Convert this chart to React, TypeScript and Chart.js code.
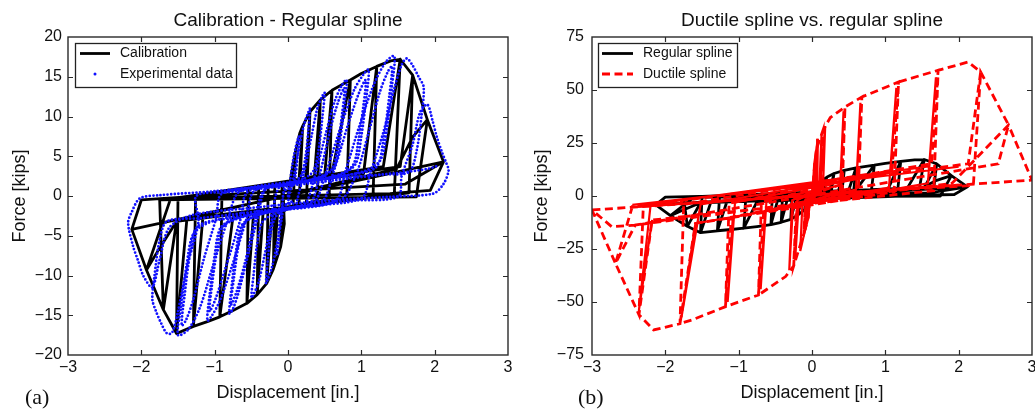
import React, { useEffect, useRef } from "react";
import { Chart, registerables } from "chart.js";
Chart.register(...registerables);

const FONT = '"Liberation Sans", Arial, Helvetica, sans-serif';
const SERIF = '"Liberation Serif", "Times New Roman", serif';

// ---- Data (displacement [in.], force [kips]) ----
const calibration: number[][] = [
  [0,0],[0.05,3],[0.1,5.5],
  [0.07,1.7],[-0.07,1.5],[-0.05,-3.5],[-0.1,-6.4],
  [-0.06,-1.9],[0.07,-1.2],[0.1,5.5],[0.16,7.9],[0.2,8.8],
  [0.15,2.0],[-0.08,1.4],[-0.1,-6.4],[-0.2,-9.2],
  [-0.14,-1.9],[0.15,-1.0],[0.2,8.8],[0.3,10.6],
  [0.24,2.2],[-0.18,1.3],[-0.2,-9.2],[-0.29,-11],
  [-0.22,-2.0],[0.25,-0.9],[0.3,10.6],[0.44,12.1],
  [0.36,2.4],[-0.27,1.2],[-0.29,-11],[-0.42,-12.4],
  [-0.34,-2.1],[0.4,-0.6],[0.44,12.1],[0.6,13.3],
  [0.5,2.6],[-0.4,1.1],[-0.42,-12.4],[-0.56,-13.5],
  [-0.47,-2.2],[0.56,-0.5],[0.6,13.3],[0.85,14.6],
  [0.6,2.9],[-0.54,0.9],[-0.56,-13.5],[-0.75,-14.4],[-0.93,-15.2],
  [-0.75,-2.6],[0.8,-0.4],[0.85,14.6],[1.0,15.4],[1.21,16.3],
  [1.03,2.8],[-0.9,0.6],[-0.93,-15.2],[-1.1,-15.8],[-1.29,-16.4],
  [-1.16,-2.6],[1.16,-0.1],[1.21,16.3],[1.4,17.0],[1.53,17.2],
  [1.3,3.7],[-1.26,0.1],[-1.29,-16.4],[-1.52,-17.3],
  [-1.38,-3.0],[1.45,0.3],[1.53,17.2],[1.7,15.2],
  [1.53,3.7],[-1.5,-0.2],[-1.52,-17.3],[-1.7,-14.3],
  [-1.52,-3.2],[1.65,0.4],[1.7,15.2],[1.9,9.6],
  [1.75,-0.1],[-1.75,-0.5],[-1.7,-14.3],[-1.93,-9.3],
  [-1.78,-7.0],[-1.52,-3.2],[1.48,3.4],[1.7,7.4],[1.9,9.6],[2.12,4.3],
  [1.94,0.7],[1.39,0.3],[-1.6,-0.3],[-1.93,-9.3],[-2.13,-4.2],
  [-2.0,-0.5],[-1.38,-0.1],[1.6,1.5],[2.12,4.3],[-2.13,-4.2],[2.12,4.3]
];

const experimental: number[][] = [
  [0,0],[0.03,2],[0.07,4.5],[0.11,6.3],[0.15,7.5],
  [0.13,5],[0.1,2.5],[0.05,1.2],[-0.05,0.6],
  [-0.08,-1.5],[-0.11,-4],[-0.13,-6],[-0.15,-7.5],
  [-0.13,-5],[-0.1,-2.5],[-0.05,-1.3],[0.05,-0.7],
  [0.0,-0.9],[0.08,2.5],[0.15,6],[0.22,9],[0.28,10.6],[0.3,11],
  [0.28,8.5],[0.24,5],[0.18,2.6],[0.08,1.7],[-0.05,0.9],
  [-0.08,-2.5],[-0.15,-6],[-0.22,-9],[-0.28,-10.6],[-0.3,-11],
  [-0.28,-8.5],[-0.24,-5],[-0.18,-2.8],[-0.08,-1.9],[0.1,-1.4],
  [0.12,-0.7],[0.22,3],[0.32,7.5],[0.4,11],[0.47,12.6],[0.5,13],
  [0.47,10],[0.42,6],[0.35,3.2],[0.2,2.1],[-0.12,1.1],
  [-0.22,-3],[-0.32,-7.5],[-0.4,-10.8],[-0.47,-12.4],[-0.5,-12.8],
  [-0.47,-10],[-0.42,-6],[-0.35,-3.3],[-0.2,-2.3],[0.1,-1.4],[0.25,-0.8],
  [0.38,3],[0.52,8],[0.64,12],[0.74,14],[0.8,14.6],
  [0.77,11.5],[0.71,7],[0.63,3.6],[0.45,2.4],[0,1.5],[-0.3,0.9],
  [-0.42,-3],[-0.56,-8],[-0.67,-12],[-0.75,-14.2],[-0.8,-14.8],
  [-0.77,-11.5],[-0.71,-7],[-0.63,-3.7],[-0.45,-2.5],[0,-1.6],[0.3,-1.0],
  [0.44,3],[0.58,8.5],[0.69,12],[0.77,13.6],
  [0.74,10.5],[0.68,6.5],[0.6,3.4],[0.4,2.3],[0,1.4],[-0.32,0.8],
  [-0.45,-3],[-0.59,-8.5],[-0.7,-12],[-0.78,-13.7],
  [-0.74,-10.5],[-0.68,-6.5],[-0.6,-3.5],[-0.4,-2.4],[0,-1.5],[0.35,-0.9],
  [0.52,3],[0.73,9],[0.9,13.3],[1.03,15.3],[1.1,15.9],
  [1.07,12.5],[1.0,7.5],[0.92,4],[0.7,2.6],[0.2,1.8],[-0.45,0.7],
  [-0.57,-3],[-0.77,-9],[-0.93,-13.2],[-1.04,-15.1],[-1.1,-15.7],
  [-1.07,-12.5],[-1.0,-7.5],[-0.92,-4],[-0.7,-2.8],[-0.2,-1.8],[0.45,-0.8],
  [0.62,3],[0.82,9],[0.97,13],[1.06,14.6],
  [1.03,11.5],[0.96,7],[0.88,3.8],[0.6,2.4],[0,1.5],[-0.55,0.5],
  [-0.65,-3],[-0.85,-9],[-0.99,-13],[-1.07,-14.5],
  [-1.04,-11.5],[-0.97,-7],[-0.89,-3.9],[-0.6,-2.6],[0,-1.5],[0.65,-0.6],
  [0.78,3],[0.98,9],[1.17,14],[1.33,16.8],[1.45,17.6],
  [1.42,14],[1.35,8.5],[1.26,4.5],[1.0,3],[0.3,2],[-0.65,0.6],
  [-0.82,-3],[-1.03,-9],[-1.2,-14],[-1.36,-16.8],[-1.5,-17.5],
  [-1.46,-14],[-1.38,-8.5],[-1.28,-4.6],[-1.0,-3.1],[-0.3,-2],[0.7,-0.6],
  [0.92,2.5],[1.1,8],[1.25,13],[1.36,15.6],[1.42,16.3],
  [1.38,12.5],[1.3,7],[1.2,3.6],[0.8,2.6],[-0.2,1.3],[-0.9,0.3],
  [-0.98,-2.8],[-1.15,-8],[-1.29,-13],[-1.39,-15.6],[-1.45,-16.3],
  [-1.41,-12.5],[-1.33,-7],[-1.23,-3.8],[-0.8,-2.8],[0.2,-1.3],[1.0,-0.3],
  [1.12,2.8],[1.3,8],[1.45,13.5],[1.55,16.5],[1.62,17.3],[1.7,16.4],[1.78,15],[1.85,13.7],
  [1.82,10],[1.75,5.5],[1.65,3],[1.3,2.7],[0.3,1.6],[-0.8,0.5],[-1.25,0],
  [-1.22,-3.2],[-1.38,-9],[-1.5,-14.5],[-1.58,-17.2],[-1.65,-17.3],[-1.73,-16],[-1.8,-14.5],[-1.85,-13],
  [-1.82,-10],[-1.75,-5.5],[-1.65,-3.2],[-1.2,-2.8],[-0.3,-1.8],[0.8,-0.6],[1.5,-0.1],
  [1.55,2.5],[1.7,6.5],[1.8,10.5],[1.9,11.5],[1.97,9.5],[2.03,7.4],[2.1,5.5],[2.16,4.1],[2.19,3.2],
  [2.12,1.5],[1.98,0.3],[1.39,-0.1],[0.5,-0.6],[-0.5,-1.5],[-1.3,-2.4],
  [-1.62,-4],[-1.75,-8],[-1.85,-11.5],[-1.97,-10.1],[-2.05,-8],[-2.11,-6.4],[-2.18,-3.4],
  [-2.13,-2.0],[-2.02,-0.3],[-1.75,0.1],[-1.0,0.6],[0,1.5],[0.8,2.3],[1.5,2.9],[1.9,3.4],[2.05,3.8]
];

const ductile: number[][] = [
  [0,0],[0.03,12],[0.06,22],
  [0.05,2],[-0.03,-0.5],[-0.05,-10],[-0.11,-17.6],
  [-0.09,-2],[0.04,1],[0.06,22],[0.15,31],
  [0.12,3],[-0.08,-1],[-0.11,-17.6],[-0.25,-33],
  [-0.2,-4],[0.12,0.5],[0.15,31],[0.25,37],[0.45,42],
  [0.4,5.5],[-0.21,-1.5],[-0.25,-33],[-0.36,-38],[-0.73,-46.7],
  [-0.66,-8],[0.41,1],[0.45,42],[0.68,46.7],
  [0.63,9],[-0.69,-3],[-0.73,-46.7],[-1.18,-52.2],
  [-1.1,-10],[0.63,1.5],[0.68,46.7],[1.18,53.8],
  [1.09,12.1],[-1.13,-3.5],[-1.18,-52.2],[-1.64,-58.5],[-1.8,-60.2],
  [-1.59,-12.9],[1.12,2],[1.18,53.8],[1.72,59.3],
  [1.63,15.2],[-1.75,-4],[-1.8,-60.2],[-2.16,-63.2],[-2.36,-56],
  [-2.18,-11.3],[1.66,2.5],[1.72,59.3],[2.13,63.2],[2.3,58.5],
  [2.13,15.2],[-2.3,-4.5],[-2.36,-56],[-2.68,-31.8],
  [-2.45,-5],[2.2,5],[2.3,58.5],[2.68,33.5],
  [2.54,15.2],[-2.41,-13.7],[-2.68,-31.8],[-3.0,-6.6],
  [-2.73,-14.5],[-2.41,-13.7],[1.91,6],[2.68,33.5],[3.0,7.5],[-3.0,-6.6]
];

const ductileRepeat: (number[] | null)[] = [
  [0.02,1],[0.05,20],[0.04,2],[-0.02,0],[-0.05,-10],[-0.09,-16],[-0.07,-2],[0.1,2],[0.13,29],[0.1,4],
  [-0.2,-2],[-0.23,-30],[-0.18,-3],[0.0,-2],[0.03,15],[0.08,27],[0.07,3],[-0.05,-3],[-0.08,-14],
  [-0.16,-26],[-0.13,-3],[0.1,1],[0.18,33],[0.15,4],[-0.27,-2],[-0.31,-35],[-0.26,-5],
  [0.38,2],[0.43,40],[0.39,5],[-0.62,-2],[-0.7,-44],[-0.64,-7],
  [0.6,3],[0.66,44],[0.61,8],[-1.05,-3],[-1.15,-50],[-1.08,-10],[1.05,4],[1.15,51],[1.07,11],
  [-1.52,-4],[-1.78,-57.2],[-1.59,-12.9],[1.58,6],[1.69,56],[1.6,14],[-2.2,-4],[-2.36,-53.8],[-2.18,-11.3],
  null,
  [-2.45,-4.2],[0,5.3],[2.0,13.8],
  null,
  [-2.4,-5.2],[2.0,5.3]
];

const xTickRange = { min: -3, max: 3, step: 1 };
const leftY = { min: -20, max: 20, step: 5 };
const rightY = { min: -75, max: 75, step: 25 };

const toXY = (arr: (number[] | null)[]) =>
  arr.map((p) => (p ? { x: p[0], y: p[1] } : { x: null, y: null }));

const fmt = (v: number | string) => String(v).replace("-", "\u2212");

type LegendItem = { label: string; kind: "line" | "dash" | "dot"; color: string };
type Spec = {
  title: string;
  tag: string;
  tagX: number;
  yTitleX: number;
  yAxisWidth: number;
  padRight: number;
  yRange: { min: number; max: number; step: number };
  legendBox: number[];
  legendLine: number[];
  legendTextX: number;
  legend: LegendItem[];
};

function makeDecor(spec: Spec) {
  return {
    id: "decor",
    afterDraw(chart: any) {
      const { ctx, chartArea: a, scales } = chart;
      const xs = scales.x, ys = scales.y;
      ctx.save();
      ctx.setLineDash([]);
      ctx.strokeStyle = "#2a2a2a";
      ctx.lineWidth = 1.2;
      ctx.beginPath();
      for (const t of xs.ticks) {
        if (t.value <= xs.min || t.value >= xs.max) continue;
        const px = Math.round(xs.getPixelForValue(t.value)) + 0.5;
        ctx.moveTo(px, a.bottom); ctx.lineTo(px, a.bottom - 5);
        ctx.moveTo(px, a.top); ctx.lineTo(px, a.top + 5);
      }
      for (const t of ys.ticks) {
        if (t.value <= ys.min || t.value >= ys.max) continue;
        const py = Math.round(ys.getPixelForValue(t.value)) + 0.5;
        ctx.moveTo(a.left, py); ctx.lineTo(a.left + 5, py);
        ctx.moveTo(a.right, py); ctx.lineTo(a.right - 5, py);
      }
      ctx.stroke();
      ctx.lineWidth = 1.4;
      ctx.strokeRect(a.left, a.top, a.right - a.left, a.bottom - a.top);
      // legend
      const [bx1, by1, bx2, by2] = spec.legendBox;
      ctx.fillStyle = "#fff";
      ctx.fillRect(bx1, by1, bx2 - bx1, by2 - by1);
      ctx.strokeStyle = "#222";
      ctx.lineWidth = 1.3;
      ctx.strokeRect(bx1 + 0.5, by1 + 0.5, bx2 - bx1, by2 - by1);
      const rows = [53.5, 74];
      spec.legend.forEach((it, i) => {
        const y = rows[i];
        const [lx1, lx2] = spec.legendLine;
        ctx.strokeStyle = it.color;
        ctx.fillStyle = it.color;
        if (it.kind === "dot") {
          ctx.beginPath();
          ctx.arc((lx1 + lx2) / 2, y, 1.5, 0, Math.PI * 2);
          ctx.fill();
        } else {
          ctx.lineWidth = 2.8;
          ctx.setLineDash(it.kind === "dash" ? [8, 4.5] : []);
          ctx.beginPath();
          ctx.moveTo(lx1, y); ctx.lineTo(lx2, y);
          ctx.stroke();
          ctx.setLineDash([]);
        }
        ctx.fillStyle = "#111";
        ctx.font = `14px ${FONT}`;
        ctx.textAlign = "left";
        ctx.textBaseline = "middle";
        ctx.fillText(it.label, spec.legendTextX, y);
      });
      const cx = (a.left + a.right) / 2;
      ctx.fillStyle = "#111";
      ctx.textBaseline = "alphabetic";
      ctx.textAlign = "center";
      ctx.font = `19px ${FONT}`;
      ctx.fillText(spec.title, cx, 26);
      ctx.font = `18px ${FONT}`;
      ctx.fillText("Displacement [in.]", cx, 398);
      ctx.save();
      ctx.translate(spec.yTitleX, (a.top + a.bottom) / 2);
      ctx.rotate(-Math.PI / 2);
      ctx.fillText("Force [kips]", 0, 0);
      ctx.restore();
      ctx.textAlign = "left";
      ctx.font = `22px ${SERIF}`;
      ctx.fillText(spec.tag, spec.tagX, 404);
      ctx.restore();
    },
  };
}

function Panel({ spec, datasets, left, width }: { spec: Spec; datasets: any[]; left: number; width: number }) {
  const ref = useRef<HTMLCanvasElement>(null);
  useEffect(() => {
    if (!ref.current) return;
    const tickFont = { family: FONT, size: 16 };
    const chart = new Chart(ref.current, {
      type: "scatter",
      data: { datasets },
      options: {
        responsive: false,
        animation: false,
        events: [],
        layout: { padding: { top: 37, right: spec.padRight, left: 0, bottom: 0 } },
        plugins: { legend: { display: false }, tooltip: { enabled: false }, title: { display: false } },
        scales: {
          x: {
            type: "linear",
            min: xTickRange.min,
            max: xTickRange.max,
            ticks: {
              stepSize: xTickRange.step,
              autoSkip: false,
              maxRotation: 0,
              padding: 3,
              color: "#111",
              font: tickFont,
              callback: (v: any) => fmt(v),
            },
            grid: { display: false, drawTicks: false },
            border: { display: false },
            afterFit: (s: any) => { s.height = 61; },
          },
          y: {
            type: "linear",
            min: spec.yRange.min,
            max: spec.yRange.max,
            ticks: {
              stepSize: spec.yRange.step,
              autoSkip: false,
              padding: spec.yAxisWidth === 68 ? 6 : 8,
              color: "#111",
              font: tickFont,
              callback: (v: any) => fmt(v),
            },
            grid: { display: false, drawTicks: false },
            border: { display: false },
            afterFit: (s: any) => { s.width = spec.yAxisWidth; },
          },
        },
      } as any,
      plugins: [makeDecor(spec)],
    });
    return () => chart.destroy();
  }, []);
  return (
    <canvas
      ref={ref}
      width={width}
      height={416}
      style={{ position: "absolute", left, top: 0, width, height: 416 }}
    />
  );
}

const lineBase = { showLine: true, pointRadius: 0, pointHoverRadius: 0, fill: false };

export default function App() {
  const leftSpec: Spec = {
    title: "Calibration - Regular spline",
    tag: "(a)",
    tagX: 25,
    yTitleX: 25,
    yAxisWidth: 68,
    padRight: 10,
    yRange: leftY,
    legendBox: [75, 43, 236, 87],
    legendLine: [80, 110],
    legendTextX: 120,
    legend: [
      { label: "Calibration", kind: "line", color: "#000" },
      { label: "Experimental data", kind: "dot", color: "#1010ff" },
    ],
  };
  const rightSpec: Spec = {
    title: "Ductile spline vs. regular spline",
    tag: "(b)",
    tagX: 60,
    yTitleX: 29,
    yAxisWidth: 74,
    padRight: 16,
    yRange: rightY,
    legendBox: [80, 43, 219, 87],
    legendLine: [84, 115],
    legendTextX: 125,
    legend: [
      { label: "Regular spline", kind: "line", color: "#000" },
      { label: "Ductile spline", kind: "dash", color: "#ff0000" },
    ],
  };
  const leftData = [
    {
      ...lineBase,
      label: "Experimental data",
      data: toXY(experimental),
      borderColor: "#1010ff",
      borderWidth: 2.8,
      borderDash: [0, 3.6],
      borderCapStyle: "round",
      tension: 0.3,
      order: 0,
    },
    {
      ...lineBase,
      label: "Calibration",
      data: toXY(calibration),
      borderColor: "#000",
      borderWidth: 2.8,
      borderJoinStyle: "round",
      tension: 0,
      order: 1,
    },
  ];
  const rightData = [
    {
      ...lineBase,
      label: "Ductile spline",
      data: toXY(ductile),
      borderColor: "#ff0000",
      borderWidth: 2.8,
      borderDash: [8, 4.5],
      tension: 0,
      order: 0,
    },
    {
      ...lineBase,
      label: "Ductile spline (repeat)",
      data: toXY(ductileRepeat),
      borderColor: "#ff0000",
      borderWidth: 2.2,
      spanGaps: false,
      tension: 0,
      order: 1,
    },
    {
      ...lineBase,
      label: "Regular spline",
      data: toXY(calibration),
      borderColor: "#000",
      borderWidth: 2.8,
      borderJoinStyle: "round",
      tension: 0,
      order: 2,
    },
  ];
  return (
    <div style={{ position: "fixed", left: 0, top: 0, width: 1035, height: 416, overflow: "hidden", background: "#fff" }}>
      <Panel spec={leftSpec} datasets={leftData} left={0} width={518} />
      <Panel spec={rightSpec} datasets={rightData} left={518} width={530} />
    </div>
  );
}
